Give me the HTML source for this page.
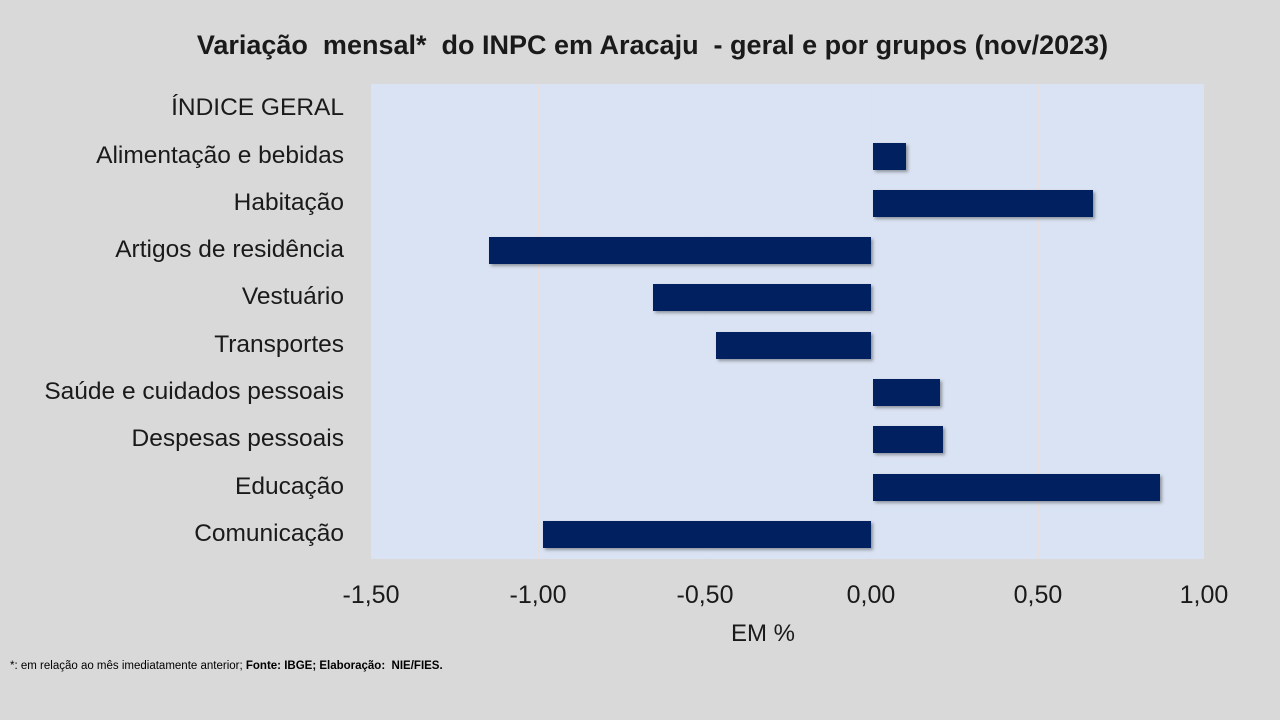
<!DOCTYPE html>
<html><head><meta charset="utf-8"><style>
body{margin:0;width:1280px;height:720px;background:#d9d9d9;position:relative;overflow:hidden;font-family:"Liberation Sans",sans-serif;}
.t{position:absolute;white-space:nowrap;color:#000;}
.plot{position:absolute;left:371px;top:84px;width:833px;height:475px;background:#dae3f3;}
.g{position:absolute;top:84px;height:475px;width:1px;background:#e8dede;}
.bar{position:absolute;height:27px;background:#002060;box-shadow:2px 2px 3px rgba(0,0,0,0.35);}
.lab{position:absolute;right:936px;font-size:24.5px;white-space:nowrap;color:#1a1a1a;}
.tk{position:absolute;top:581px;font-size:25px;width:120px;margin-left:-60px;text-align:center;color:#1a1a1a;}
</style></head><body>
<div class="t" style="left:0;width:1305px;text-align:center;top:30px;font-size:27px;font-weight:bold;color:#1a1a1a;">Variação&nbsp; mensal*&nbsp; do INPC em Aracaju&nbsp; - geral e por grupos (nov/2023)</div>
<div class="plot"></div>
<div class="g" style="left:538px"></div>
<div class="g" style="left:705px"></div>
<div class="g" style="left:871px"></div>
<div class="g" style="left:1038px"></div>
<div class="lab" style="top:94px">ÍNDICE GERAL</div>
<div class="lab" style="top:142px">Alimentação e bebidas</div>
<div class="lab" style="top:189px">Habitação</div>
<div class="lab" style="top:236px">Artigos de residência</div>
<div class="lab" style="top:283px">Vestuário</div>
<div class="lab" style="top:331px">Transportes</div>
<div class="lab" style="top:378px">Saúde e cuidados pessoais</div>
<div class="lab" style="top:425px">Despesas pessoais</div>
<div class="lab" style="top:473px">Educação</div>
<div class="lab" style="top:520px">Comunicação</div>
<div class="bar" style="left:873px;width:33px;top:143px"></div>
<div class="bar" style="left:873px;width:220px;top:190px"></div>
<div class="bar" style="left:489px;width:382px;top:237px"></div>
<div class="bar" style="left:653px;width:218px;top:284px"></div>
<div class="bar" style="left:716px;width:155px;top:332px"></div>
<div class="bar" style="left:873px;width:67px;top:379px"></div>
<div class="bar" style="left:873px;width:70px;top:426px"></div>
<div class="bar" style="left:873px;width:287px;top:474px"></div>
<div class="bar" style="left:543px;width:328px;top:521px"></div>
<div class="tk" style="left:371px">-1,50</div>
<div class="tk" style="left:538px">-1,00</div>
<div class="tk" style="left:705px">-0,50</div>
<div class="tk" style="left:871px">0,00</div>
<div class="tk" style="left:1038px">0,50</div>
<div class="tk" style="left:1204px">1,00</div>
<div class="t" style="left:731px;top:620px;font-size:24px;color:#1a1a1a;">EM %</div>
<div class="t" style="left:10px;top:660px;font-size:11.5px;">*: em relação ao mês imediatamente anterior; <b>Fonte: IBGE; Elaboração:&nbsp; NIE/FIES.</b></div>
</body></html>
